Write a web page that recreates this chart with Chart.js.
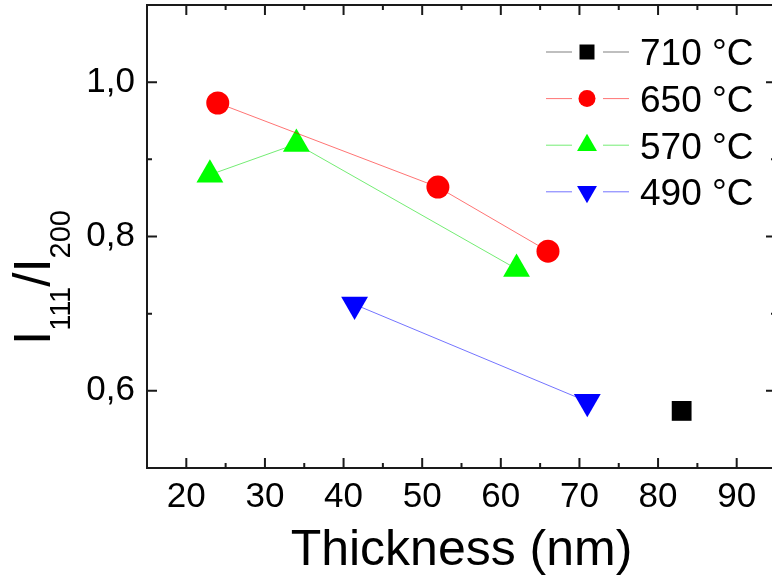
<!DOCTYPE html>
<html>
<head>
<meta charset="utf-8">
<script src="https://cdn.jsdelivr.net/npm/chart.js@4"></script>
<style>
  html, body { margin: 0; padding: 0; overflow: hidden; background: #fff; }
  canvas { display: block; }
</style>
</head>
<body>
<canvas id="chart" width="780" height="579"></canvas>
<script>
// Series labels (growth temperature)
const seriesLabels = ['710 °C', '650 °C', '570 °C', '490 °C'];

// Thickness (nm) and I111/I200 ratio for each series
const thick710 = [83];
const ratio710 = [0.574];
const thick650 = [24, 52, 66];
const ratio650 = [0.973, 0.864, 0.781];
const thick570 = [23, 34, 62];
const ratio570 = [0.880, 0.920, 0.758];
const thick490 = [41.4, 71];
const ratio490 = [0.712, 0.586];

// Axis ticks
const xTicks = [20, 30, 40, 50, 60, 70, 80, 90];
const xMinor = [25, 35, 45, 55, 65, 75, 85];
const yTicks = [0.6, 0.8, 1.0];
const yMinor = [0.7, 0.9];

const FONT = '"Liberation Sans", Arial, sans-serif';

const toPoints = (xs, ys) => xs.map((x, i) => ({ x: x, y: ys[i] }));

const datasets = [
    { label: seriesLabels[0], data: toPoints(thick710, ratio710), color: '#000000', line: 'rgba(0,0,0,0.5)', style: 'rect', radius: 14, rot: 0 },
    { label: seriesLabels[1], data: toPoints(thick650, ratio650), color: '#ff0000', line: 'rgba(255,0,0,0.55)', style: 'circle', radius: 11.5, rot: 0 },
    { label: seriesLabels[2], data: toPoints(thick570, ratio570), color: '#00ff00', line: 'rgba(0,220,0,0.55)', style: 'triangle', radius: 15.5, rot: 0 },
    { label: seriesLabels[3], data: toPoints(thick490, ratio490), color: '#0000ff', line: 'rgba(0,0,255,0.55)', style: 'triangle', radius: 15.5, rot: 180 }
].map(d => ({
    label: d.label,
    data: d.data,
    showLine: true,
    borderColor: d.line,
    borderWidth: 1,
    pointStyle: d.style,
    pointRadius: d.radius,
    pointRotation: d.rot,
    pointBackgroundColor: d.color,
    pointBorderColor: d.color,
    pointBorderWidth: 0,
    pointHoverRadius: d.radius
}));

// small marker painter for the legend
function marker(ctx, style, rot, x, y, r) {
    ctx.beginPath();
    if (style === 'rect') {
        const s = r * Math.SQRT1_2;
        ctx.rect(x - s, y - s, 2 * s, 2 * s);
    } else if (style === 'circle') {
        ctx.arc(x, y, r, 0, Math.PI * 2);
    } else {
        let a = rot * Math.PI / 180;
        for (let i = 0; i < 3; i++) {
            const px = x + Math.sin(a) * r, py = y - Math.cos(a) * r;
            if (i === 0) ctx.moveTo(px, py); else ctx.lineTo(px, py);
            a += 2 * Math.PI / 3;
        }
        ctx.closePath();
    }
    ctx.fill();
}

// axes frame with inward ticks, legend and y title
const framePlugin = {
    id: 'frame',
    afterDraw(chart) {
        const ctx = chart.ctx;
        const a = chart.chartArea;
        const xs = chart.scales.x, ys = chart.scales.y;
        ctx.save();
        ctx.strokeStyle = '#1a1a1a';
        ctx.lineWidth = 2;
        ctx.beginPath();
        ctx.rect(a.left, a.top, a.right - a.left, a.bottom - a.top);
        ctx.stroke();

        ctx.beginPath();
        const tickX = (vals, len) => vals.forEach(v => {
            const px = xs.getPixelForValue(v);
            ctx.moveTo(px, a.bottom); ctx.lineTo(px, a.bottom - len);
            ctx.moveTo(px, a.top); ctx.lineTo(px, a.top + len);
        });
        const tickY = (vals, len) => vals.forEach(v => {
            const py = ys.getPixelForValue(v);
            ctx.moveTo(a.left, py); ctx.lineTo(a.left + len, py);
            ctx.moveTo(a.right, py); ctx.lineTo(a.right - len, py);
        });
        tickX(xTicks, 10); tickX(xMinor, 5);
        tickY(yTicks, 10); tickY(yMinor, 5);
        ctx.stroke();

        // legend
        const rows = chart.data.datasets;
        rows.forEach((ds, i) => {
            const y = 52 + i * 46.6;
            ctx.strokeStyle = ds.borderColor;
            ctx.lineWidth = 1;
            ctx.beginPath();
            ctx.moveTo(546, y); ctx.lineTo(572, y);
            ctx.moveTo(603, y); ctx.lineTo(629, y);
            ctx.stroke();
            ctx.fillStyle = ds.pointBackgroundColor;
            const r = ds.pointStyle === 'rect' ? 10.6 : ds.pointStyle === 'circle' ? 8.5 : 11.5;
            marker(ctx, ds.pointStyle, ds.pointRotation, 587, y, r);
            ctx.fillStyle = '#000';
            ctx.font = '37px ' + FONT;
            ctx.textBaseline = 'alphabetic';
            ctx.textAlign = 'left';
            ctx.fillText(ds.label, 640, y + 13.3);
        });

        // y title: I111/I200
        ctx.translate(50, 345);
        ctx.rotate(-Math.PI / 2);
        ctx.fillStyle = '#000';
        ctx.textAlign = 'left';
        ctx.textBaseline = 'alphabetic';
        const big = '51px ' + FONT, small = '29px ' + FONT;
        let u = 0;
        [['I', big, 0], ['111', small, 20], ['/I', big, 0], ['200', small, 20]].forEach(p => {
            ctx.font = p[1];
            ctx.fillText(p[0], u, p[2]);
            u += ctx.measureText(p[0]).width;
        });
        ctx.restore();
    }
};

new Chart(document.getElementById('chart'), {
    type: 'scatter',
    data: { datasets: datasets },
    options: {
        responsive: false,
        animation: false,
        events: [],
        layout: { autoPadding: false, padding: { top: 5, right: 4, left: 0, bottom: 0 } },
        plugins: { legend: { display: false }, tooltip: { enabled: false } },
        scales: {
            x: {
                type: 'linear',
                min: 15, max: 95,
                afterFit: s => { s.height = 111; s.paddingLeft = 0; s.paddingRight = 0; },
                afterBuildTicks: s => { s.ticks = xTicks.map(v => ({ value: v })); },
                grid: { display: false, drawTicks: false },
                border: { display: false },
                ticks: { color: '#000', padding: 8, font: { family: FONT, size: 35 } },
                title: {
                    display: true,
                    text: 'Thickness (nm)',
                    color: '#000',
                    font: { family: FONT, size: 50, lineHeight: 1 },
                    padding: { top: 0, bottom: 3 }
                }
            },
            y: {
                type: 'linear',
                min: 0.5, max: 1.1,
                afterFit: s => { s.width = 147; s.paddingTop = 0; s.paddingBottom = 0; },
                afterBuildTicks: s => { s.ticks = yTicks.map(v => ({ value: v })); },
                grid: { display: false, drawTicks: false },
                border: { display: false },
                ticks: {
                    color: '#000', padding: 12,
                    font: { family: FONT, size: 35 },
                    callback: v => v.toFixed(1).replace('.', ',')
                }
            }
        }
    },
    plugins: [framePlugin]
});
</script>
</body>
</html>
